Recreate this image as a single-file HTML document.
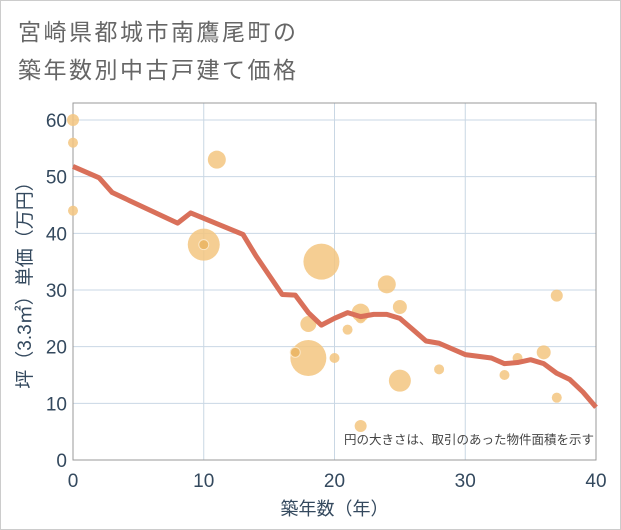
<!DOCTYPE html>
<html><head><meta charset="utf-8"><style>
body{margin:0;background:#fff;}
#wrap{position:relative;width:621px;height:530px;box-sizing:border-box;border:1px solid #ccc;background:#fff;font-family:"Liberation Sans","Noto Sans CJK JP",sans-serif;}
.title{position:absolute;left:17px;top:12px;font-size:23px;line-height:38px;color:#666;letter-spacing:2.5px;}
</style></head><body>
<div id="wrap">
<div class="title">宮崎県都城市南鷹尾町の<br>築年数別中古戸建て価格</div>
<svg id="chart" width="621" height="530" style="position:absolute;left:-1px;top:-1px"></svg>
</div>
<script>
const xTicks=[0,10,20,30,40];
const yTicks=[0,10,20,30,40,50,60];
const lineX=[0,2,3,8,9,13,14,16,17,18,19,20,21,22,23,24,25,26,27,28,30,32,33,34,35,36,37,38,39,40];
const lineY=[51.8,49.8,47.2,41.8,43.6,39.8,36,29.2,29.1,26,23.8,25,26,25.3,25.7,25.7,25,23,21,20.6,18.6,18,17,17.2,17.7,17,15.3,14.2,12,9.3];
const bubX=[0,0,0,11,10,19,24,25,22,18,21,18,20,25,28,22,33,34,36,37,37,22,10,17];
const bubY=[60,56,44,53,38,35,31,27,26,24,23,18,18,14,16,6,15,18,19,29,11,25,38,19];
const bubArea=[36,25,25,81,256,324,81,49,81,64,25,324,25,121,25,36,25,25,49,36,25,25,25,25];
const bubDark=[0,0,0,0,0,0,0,0,0,0,0,0,0,0,0,0,0,0,0,0,0,0,1,1];
const L=73,R=596,T=103,B=460,XMAX=40,YMAX=63;
const sx=v=>L+(R-L)*v/XMAX, sy=v=>B-(B-T)*v/YMAX;
const svg=document.getElementById('chart');const NS='http://www.w3.org/2000/svg';
function mk(t,a){const e=document.createElementNS(NS,t);for(const k in a)e.setAttribute(k,a[k]);svg.appendChild(e);return e;}
xTicks.forEach(v=>{const g=mk('line',{x1:sx(v),x2:sx(v),y1:T,y2:B,stroke:'#c9d7e4','stroke-width':1});

const t=mk('text',{x:sx(v),y:B+27,'text-anchor':'middle','font-size':19,fill:'#34495e'});t.textContent=v;
});
yTicks.forEach(v=>{const g=mk('line',{x1:L,x2:R,y1:sy(v),y2:sy(v),stroke:'#c9d7e4','stroke-width':1});

const t=mk('text',{x:L-6,y:sy(v)+7,'text-anchor':'end','font-size':19,fill:'#34495e'});t.textContent=v;
});
const fr=mk('rect',{x:L,y:T,width:R-L,height:B-T,fill:'none',stroke:'#999','stroke-width':1});

bubX.forEach((x,i)=>{const c=mk('circle',{cx:sx(x),cy:sy(bubY[i]),r:Math.sqrt(bubArea[i]),fill:bubDark[i]?'#eab462':'#f3c680','fill-opacity':0.85,stroke:bubDark[i]?'#fbe6c4':'none','stroke-width':1});
});
const p=mk('polyline',{points:lineX.map((x,i)=>sx(x)+','+sy(lineY[i])).join(' '),fill:'none',stroke:'#d9705a','stroke-width':5,'stroke-linejoin':'round'});

const n=mk('text',{x:594,y:444,'text-anchor':'end','font-size':12.5,fill:'#444'});n.textContent='円の大きさは、取引のあった物件面積を示す';

const xt=mk('text',{x:(L+R)/2,y:515,'text-anchor':'middle','font-size':18,fill:'#34495e'});xt.textContent='築年数（年）';

const yt=mk('text',{x:0,y:0,'text-anchor':'middle','font-size':19,fill:'#34495e',transform:'translate(31,'+((T+B)/2-1)+') rotate(-90)'});yt.textContent='坪（3.3㎡）単価（万円）';

</script>
</body></html>
